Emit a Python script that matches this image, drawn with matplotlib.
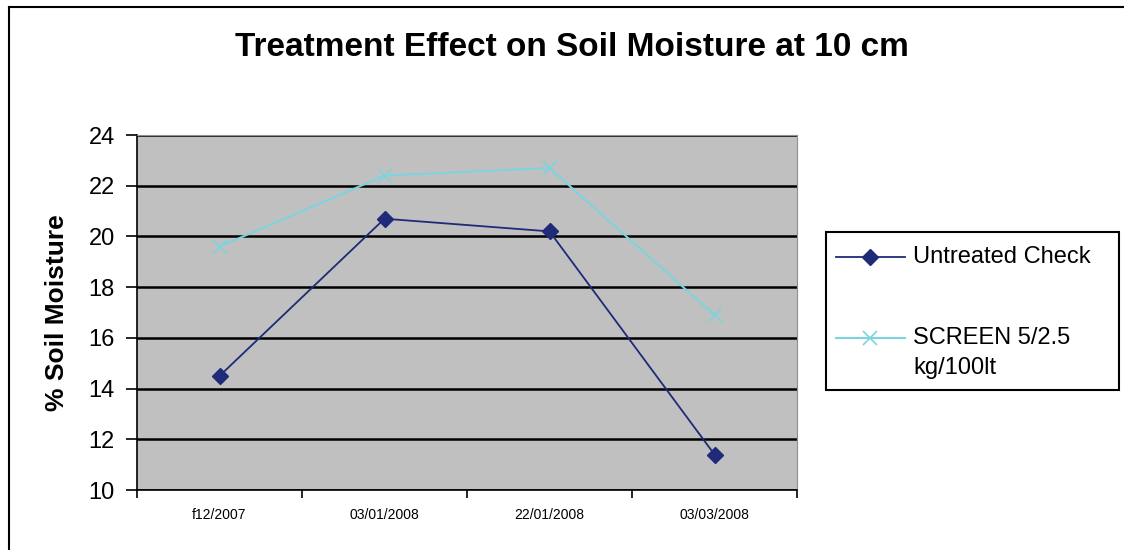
import matplotlib
matplotlib.use("Agg")
import matplotlib.pyplot as plt
from matplotlib.lines import Line2D
from matplotlib.patches import Rectangle

dates = ["f12/2007", "03/01/2008", "22/01/2008", "03/03/2008"]
untreated = [14.5, 20.7, 20.2, 11.4]
screen = [19.6, 22.4, 22.7, 16.9]
series_names = ["Untreated Check", "SCREEN 5/2.5\nkg/100lt"]
yticks = [10, 12, 14, 16, 18, 20, 22, 24]

plt.rcParams['font.family'] = ['Liberation Sans', 'DejaVu Sans']

W, H = 1124, 550
fig = plt.figure(figsize=(W / 100, H / 100), dpi=100)


def fx(px):
    return px / W


def fy(py):
    return 1 - py / H


# outer chart frame: left and top edges visible
fig.lines.append(Line2D([fx(8.5), fx(8.5)], [0.0, fy(7)], transform=fig.transFigure,
                        color='black', linewidth=1.5))
fig.lines.append(Line2D([fx(8.5), 1.0], [fy(7), fy(7)], transform=fig.transFigure,
                        color='black', linewidth=1.5))

ax = fig.add_axes([0.1219, 0.109, 0.5872, 0.6455])
ax.set_facecolor('#C0C0C0')
x = list(range(len(dates)))
styles = [dict(color='#1F2A78', marker='D', markersize=8, linewidth=1.3),
          dict(color='#7FD3DE', marker='x', markersize=10, markeredgewidth=1.2,
               linewidth=1.5)]
ax.plot(x, untreated, **styles[0])
ax.plot(x, screen, **styles[1])

ax.set_xlim(-0.5, len(dates) - 0.5)
ax.set_ylim(10, 24)
ax.set_yticks(yticks)
ax.set_yticklabels([str(v) for v in yticks], fontsize=17)
ax.set_xticks(x)
ax.set_xticklabels(dates, fontsize=10)
ax.set_xticks([i - 0.5 for i in range(len(dates) + 1)], minor=True)
ax.tick_params(axis='x', which='major', length=0, pad=13)
ax.tick_params(axis='x', which='minor', length=6, width=1.2, direction='out')
ax.tick_params(axis='y', length=8, width=1.2, direction='out', pad=8)
ax.grid(axis='y', color='black', linewidth=1.8)
ax.set_axisbelow(True)
for s in ['top', 'right']:
    ax.spines[s].set_color('#909090')
for s in ['left', 'bottom']:
    ax.spines[s].set_color('black')
    ax.spines[s].set_linewidth(1.2)

ax.set_ylabel('% Soil Moisture', fontsize=19, fontweight='bold', labelpad=14)
fig.text(0.509, 0.913, 'Treatment Effect on Soil Moisture at 10 cm', ha='center',
         va='center', fontsize=24, fontweight='bold')

# legend box (handle aligned with first text line, as in the original)
fig.patches.append(Rectangle((fx(826), fy(390)), fx(1119) - fx(826), fy(232) - fy(390),
                             transform=fig.transFigure, facecolor='white',
                             edgecolor='black', linewidth=1.5))
rows_y = [257, 338]
for name, st, ry in zip(series_names, styles, rows_y):
    fig.lines.append(Line2D([fx(836), fx(905)], [fy(ry), fy(ry)], transform=fig.transFigure,
                            color=st['color'], linewidth=st['linewidth']))
    mk = {k: v for k, v in st.items() if k != 'linewidth'}
    fig.lines.append(Line2D([fx(870)], [fy(ry)], transform=fig.transFigure,
                            linestyle='none', **mk))
    for j, line in enumerate(name.split('\n')):
        fig.text(fx(913), fy(ry + 30 * j), line, ha='left', va='center', fontsize=17)

fig.savefig('out.png', dpi=100)
